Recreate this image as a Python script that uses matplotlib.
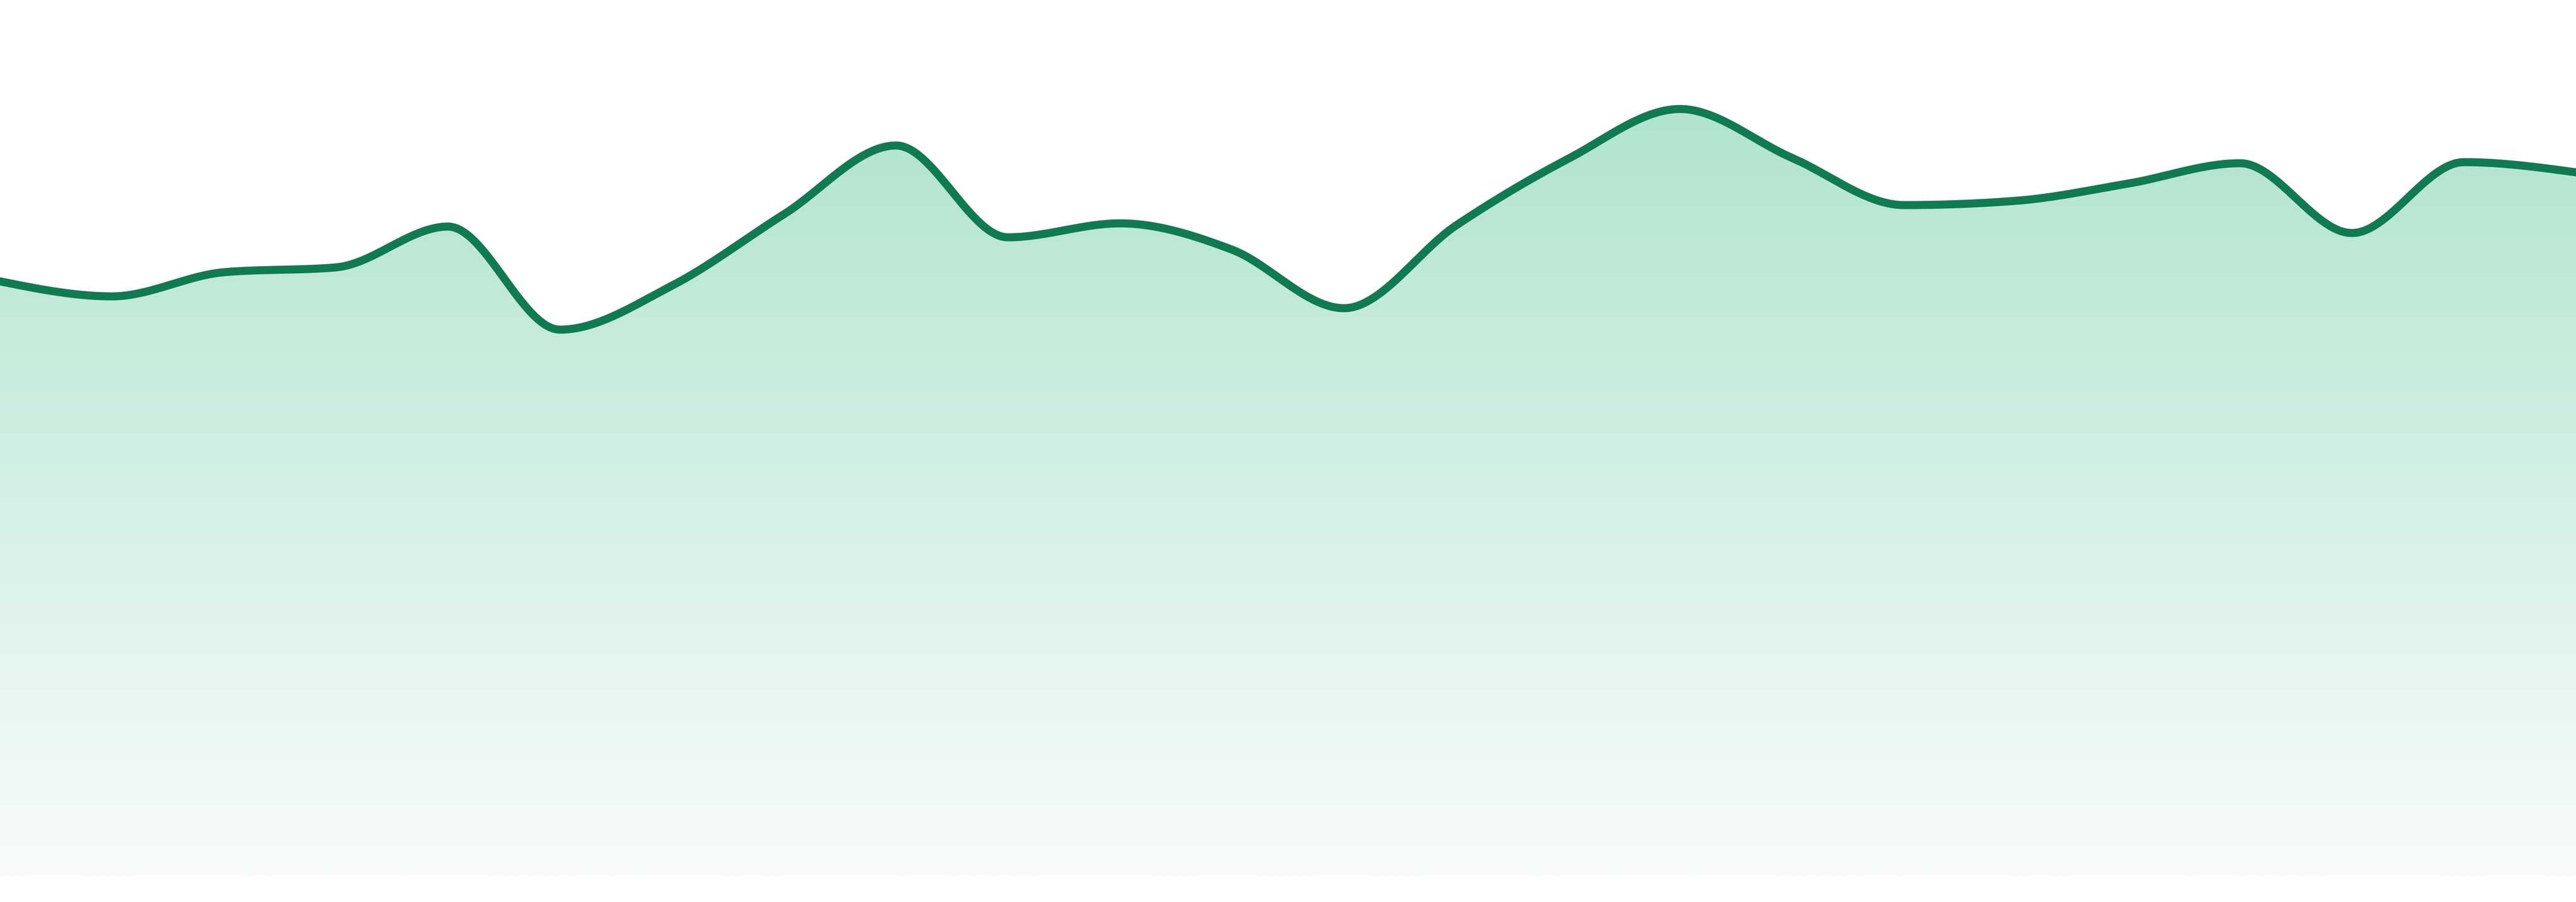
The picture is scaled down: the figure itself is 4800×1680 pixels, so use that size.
import numpy as np
import matplotlib
matplotlib.use("Agg")
import matplotlib.pyplot as plt
from matplotlib.path import Path
from matplotlib.patches import PathPatch

# ---- data ----
periods = list(range(24))
values = [110.8, 108.0, 112.5, 113.4, 121.0, 101.8, 110.0, 123.3,
          136.1, 119.0, 121.6, 116.7, 105.8, 121.2, 133.6, 142.9,
          133.8, 125.0, 125.8, 129.0, 132.8, 119.8, 133.0, 131.1]

line_color = "#117a51"
fill_top = (176, 228, 206)
fill_bottom = (249, 252, 251)


def monotone_slopes(x, y):
    x = np.asarray(x, float)
    y = np.asarray(y, float)
    n = len(x)
    t = np.zeros(n)
    for i in range(1, n - 1):
        h0 = x[i] - x[i - 1]
        h1 = x[i + 1] - x[i]
        s0 = (y[i] - y[i - 1]) / h0
        s1 = (y[i + 1] - y[i]) / h1
        p = (s0 * h1 + s1 * h0) / (h0 + h1)
        t[i] = (np.sign(s0) + np.sign(s1)) * min(abs(s0), abs(s1), 0.5 * abs(p))
    h = x[1] - x[0]
    t[0] = (3 * (y[1] - y[0]) / h - t[1]) / 2
    h = x[-1] - x[-2]
    t[-1] = (3 * (y[-1] - y[-2]) / h - t[-2]) / 2
    return t


def monotone_curve(x, y, steps=60):
    x = np.asarray(x, float)
    y = np.asarray(y, float)
    t = monotone_slopes(x, y)
    xs, ys = [], []
    u = np.linspace(0, 1, steps)
    for i in range(len(x) - 1):
        dx = (x[i + 1] - x[i]) / 3
        p0 = np.array([x[i], y[i]])
        p1 = np.array([x[i] + dx, y[i] + dx * t[i]])
        p2 = np.array([x[i + 1] - dx, y[i + 1] - dx * t[i + 1]])
        p3 = np.array([x[i + 1], y[i + 1]])
        uu = u if i == 0 else u[1:]
        b = ((1 - uu) ** 3)[:, None] * p0 + (3 * (1 - uu) ** 2 * uu)[:, None] * p1 \
            + (3 * (1 - uu) * uu ** 2)[:, None] * p2 + (uu ** 3)[:, None] * p3
        xs.append(b[:, 0])
        ys.append(b[:, 1])
    return np.concatenate(xs), np.concatenate(ys)


W, H, DPI = 4800, 1680, 300
fig = plt.figure(figsize=(W / DPI, H / DPI), dpi=DPI)
fig.patch.set_facecolor("white")
base_px = 48
ax = fig.add_axes([0, base_px / H, 1, 1 - base_px / H])
ax.set_xlim(periods[0], periods[-1])
ax.set_ylim(0, 163.2)
ax.axis("off")

cx, cy = monotone_curve(periods, values)

# gradient fill clipped to area under the curve
verts = np.column_stack([np.r_[cx, cx[-1], cx[0]], np.r_[cy, 0, 0]])
clip = PathPatch(Path(verts), facecolor="none", edgecolor="none")
ax.add_patch(clip)
ntop = 143.0
g = np.linspace(1, 0, 400)[:, None]
top = np.array(fill_top) / 255.0
bot = np.array(fill_bottom) / 255.0
img = (bot[None, None, :] + (top - bot)[None, None, :] * g[:, :, None])
img = np.repeat(img, 2, axis=1)
im = ax.imshow(img, extent=[periods[0], periods[-1], 0, ntop], aspect="auto",
               interpolation="bilinear", origin="upper", zorder=1)
im.set_clip_path(clip)
ax.set_ylim(0, 163.2)

ax.plot(cx, cy, color=line_color, lw=15 * 72 / DPI, solid_capstyle="round",
        solid_joinstyle="round", zorder=3)

fig.savefig("out.png", dpi=DPI, facecolor="white")
